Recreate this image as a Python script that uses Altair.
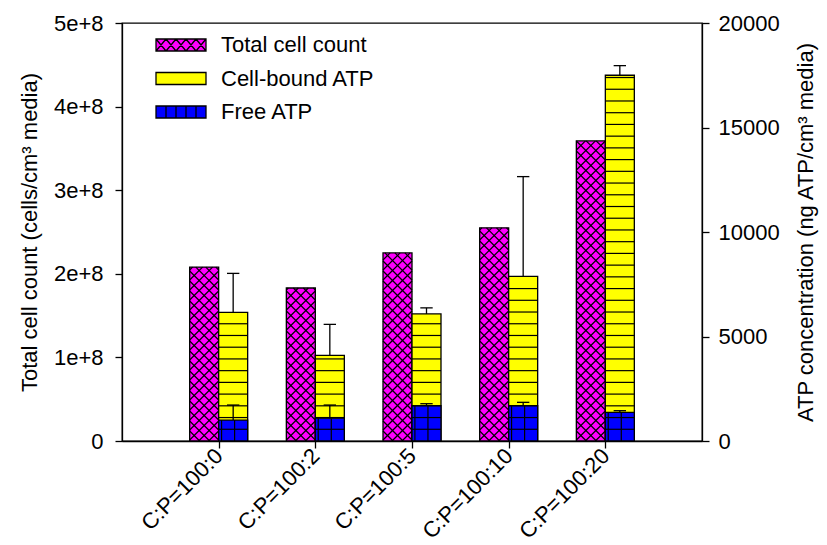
import altair as alt
import pandas as pd

# ---- data -------------------------------------------------------------
ratios = ["C:P=100:0", "C:P=100:2", "C:P=100:5", "C:P=100:10", "C:P=100:20"]
cell_count = [2.08e8, 1.83e8, 2.25e8, 2.55e8, 3.59e8]      # cells/cm3 media
bound_atp = [6150, 4100, 6080, 7880, 17500]                # ng ATP/cm3 media
bound_atp_err = [1870, 1480, 290, 4770, 460]
free_atp = [1000, 1090, 1690, 1690, 1370]
free_atp_err = [720, 630, 95, 160, 80]

series_names = ["Total cell count", "Cell-bound ATP", "Free ATP"]
series_colors = ["#ff00ff", "#ffff00", "#0000ff"]

# ---- layout / style constants -----------------------------------------
FONT = "Liberation Sans"
FS = 22
W, H = 580, 418
X_MAX = 6
CELL_MAX = 5e8
ATP_MAX = 20000
BAR = 0.3                     # bar width in x units
PX = W / X_MAX                # px per x unit
PY_CELL = H / CELL_MAX        # px per cell
HATCH = 10                    # px between crosshatch lines
STRIPE = 561                  # ATP units between stripe lines
GRID_COLS = [0.03, 0.165]     # grid line offsets inside the free-ATP bars
CAP = 0.064                   # half width of error caps (x units)
LW = 1.3

# legend swatches: wide rectangles carrying the bar patterns
SWATCH = "M-1,-0.24H1V0.24H-1Z"
SWATCH_CROSS = SWATCH + "".join(
    f"M{-1 + 0.4 * k:.2f},-0.24L{-0.6 + 0.4 * k:.2f},0.24"
    f"M{-0.6 + 0.4 * k:.2f},-0.24L{-1 + 0.4 * k:.2f},0.24"
    for k in range(5)
)
SWATCH_GRID = SWATCH + "M-0.6,-0.24V0.24M-0.2,-0.24V0.24M0.2,-0.24V0.24M0.6,-0.24V0.24"

df = pd.DataFrame({
    "pos": list(range(1, len(ratios) + 1)),
    "ratio": ratios,
    "cells": cell_count,
    "bound": bound_atp,
    "bound_err": bound_atp_err,
    "free": free_atp,
    "free_err": free_atp_err,
})


def x_scale():
    return alt.Scale(domain=[0, X_MAX], nice=False, zero=False)


def cell_scale():
    return alt.Scale(domain=[0, CELL_MAX], nice=False, zero=True)


def atp_scale():
    return alt.Scale(domain=[0, ATP_MAX], nice=False, zero=True)


label_list = "[" + ",".join(f"'{r}'" for r in ratios) + "]"


def x_axis():
    # identical on every layer so the shared axis merges into one
    return alt.Axis(
        values=list(range(1, len(ratios) + 1)),
        labelExpr=f"{label_list}[datum.value - 1]",
        title=None, labelAngle=-45, labelAlign="right", labelBaseline="middle",
        labelPadding=4, labelOverlap=False,
    )


def xenc(field):
    return alt.X(field, type="quantitative", scale=x_scale(), axis=x_axis())


fill_scale = alt.Scale(domain=series_names, range=series_colors)
shape_scale = alt.Scale(domain=series_names, range=[SWATCH_CROSS, SWATCH, SWATCH_GRID])
outline_scale = alt.Scale(domain=series_names, range=["black"] * len(series_names))

base = alt.Chart(df)

legend = alt.Legend(
    title=None, orient="none", legendX=33, legendY=12, padding=0,
    symbolType=SWATCH, symbolSize=2500,
    symbolStrokeColor="black", symbolStrokeWidth=LW, symbolOpacity=1,
    labelFont=FONT, labelFontSize=FS, labelColor="black", labelOffset=14,
    labelLimit=400, clipHeight=20, rowPadding=11.5,
)

fill_enc = alt.Fill("series:N", scale=fill_scale, legend=legend)

# ---- total cell count (left axis) ---------------------------------------
cells_bar = base.transform_calculate(
    x0=f"datum.pos - {BAR}", series=f"'{series_names[0]}'"
).mark_rect(stroke="black", strokeWidth=LW, opacity=1).encode(
    x=xenc("x0"),
    x2="pos:Q",
    y=alt.Y("cells:Q", scale=cell_scale(), axis=alt.Axis(
        orient="left", values=[0, 1e8, 2e8, 3e8, 4e8, 5e8],
        labelExpr="datum.value == 0 ? '0' : round(datum.value / 1e8) + 'e+8'",
        title="Total cell count (cells/cm\u00b3 media)",
        labelPadding=12, titlePadding=12)),
    y2=alt.datum(0),
    fill=fill_enc,
)


def crosshatch(rising):
    """Diagonal lines clipped to each cell-count bar."""
    w = BAR * PX
    if rising:
        seq = f"sequence({-w}, datum.h, {HATCH})"
        xs, xe = "max(0, -datum.c)", f"min({w}, datum.h - datum.c)"
        ys, ye = "datum.xs + datum.c", "datum.xe + datum.c"
    else:
        seq = f"sequence({HATCH}, datum.h + {w}, {HATCH})"
        xs, xe = "max(0, datum.c - datum.h)", f"min({w}, datum.c)"
        ys, ye = "datum.c - datum.xs", "datum.c - datum.xe"
    return base.transform_calculate(
        h=f"datum.cells * {PY_CELL}"
    ).transform_calculate(c=seq).transform_flatten(["c"]).transform_calculate(
        xs=xs, xe=xe
    ).transform_filter("datum.xs < datum.xe").transform_calculate(
        ys=ys, ye=ye
    ).transform_calculate(
        hx1=f"datum.pos - {BAR} + datum.xs / {PX}",
        hx2=f"datum.pos - {BAR} + datum.xe / {PX}",
        hy1=f"datum.ys / {PY_CELL}",
        hy2=f"datum.ye / {PY_CELL}",
    ).mark_rule(color="black", strokeWidth=1.2).encode(
        x=xenc("hx1"),
        x2="hx2:Q",
        y=alt.Y("hy1:Q", scale=cell_scale(), axis=None),
        y2="hy2:Q",
    )


# ---- ATP (right axis) ---------------------------------------------------
atp_base = base.transform_calculate(
    x1=f"datum.pos + {BAR}",
    xc=f"datum.pos + {BAR / 2}",
    cl=f"datum.pos + {BAR / 2 - CAP}",
    cr=f"datum.pos + {BAR / 2 + CAP}",
    bt="datum.bound + datum.bound_err",
    ft="datum.free + datum.free_err",
)

bound_bar = atp_base.transform_calculate(series=f"'{series_names[1]}'").mark_rect(
    stroke="black", strokeWidth=LW, opacity=1
).encode(
    x=xenc("pos"),
    x2="x1:Q",
    y=alt.Y("bound:Q", scale=atp_scale(), axis=alt.Axis(
        orient="right", values=[0, 5000, 10000, 15000, 20000], format="d",
        title="ATP concentration (ng ATP/cm\u00b3 media)",
        titleAngle=270, titleBaseline="top", labelPadding=9, titlePadding=16)),
    y2=alt.datum(0),
    fill=fill_enc,
)

free_bar = atp_base.transform_calculate(series=f"'{series_names[2]}'").mark_rect(
    stroke="black", strokeWidth=LW, opacity=1
).encode(
    x=xenc("pos"),
    x2="x1:Q",
    y=alt.Y("free:Q", scale=atp_scale(), axis=None),
    y2=alt.datum(0),
    fill=fill_enc,
)

stripes = atp_base.transform_calculate(
    lv=f"sequence({STRIPE}, datum.bound - 60, {STRIPE})"
).transform_flatten(["lv"]).mark_rule(color="black", strokeWidth=1.2).encode(
    x=xenc("pos"),
    x2="x1:Q",
    y=alt.Y("lv:Q", scale=atp_scale(), axis=None),
)

grid_cols = atp_base.transform_calculate(
    vx="[" + ", ".join(f"datum.pos + {g}" for g in GRID_COLS) + "]"
).transform_flatten(["vx"]).mark_rule(color="black", strokeWidth=1.2).encode(
    x=xenc("vx"),
    y=alt.Y("free:Q", scale=atp_scale(), axis=None),
    y2=alt.datum(0),
)


def error_bar(top, val):
    stem = atp_base.mark_rule(color="black", strokeWidth=LW).encode(
        x=xenc("xc"),
        y=alt.Y(f"{val}:Q", scale=atp_scale(), axis=None),
        y2=f"{top}:Q",
    )
    cap = atp_base.mark_rule(color="black", strokeWidth=LW).encode(
        x=xenc("cl"),
        x2="cr:Q",
        y=alt.Y(f"{top}:Q", scale=atp_scale(), axis=None),
    )
    return [stem, cap]


# empty point layer: only supplies the patterned legend swatches
legend_keys = base.transform_filter("false").mark_point(
    filled=True, strokeWidth=LW
).encode(
    x=xenc("pos"),
    y=alt.Y("cells:Q", scale=cell_scale(), axis=None),
    fill=fill_enc,
    stroke=alt.Stroke("series:N", scale=outline_scale, legend=legend),
    shape=alt.Shape("series:N", scale=shape_scale, legend=legend),
)

# every layer carries its own y scale (same fixed domain per quantity)
chart = alt.layer(
    cells_bar, crosshatch(True), crosshatch(False),
    bound_bar, free_bar, stripes, grid_cols,
    *error_bar("bt", "bound"), *error_bar("ft", "free"),
    legend_keys,
).resolve_scale(y="independent").properties(
    width=W, height=H, autosize="none",
    padding={"left": 122, "top": 23, "right": 125, "bottom": 104},
).configure_view(
    stroke="black", strokeWidth=LW
).configure_axis(
    domainColor="black", domainWidth=LW, tickColor="black", tickWidth=LW,
    tickSize=7, grid=False,
    labelFont=FONT, labelFontSize=FS, labelColor="black",
    titleFont=FONT, titleFontSize=FS, titleFontWeight="normal", titleColor="black",
)

chart.save("out.html", embed_options={"renderer": "svg", "actions": False})
